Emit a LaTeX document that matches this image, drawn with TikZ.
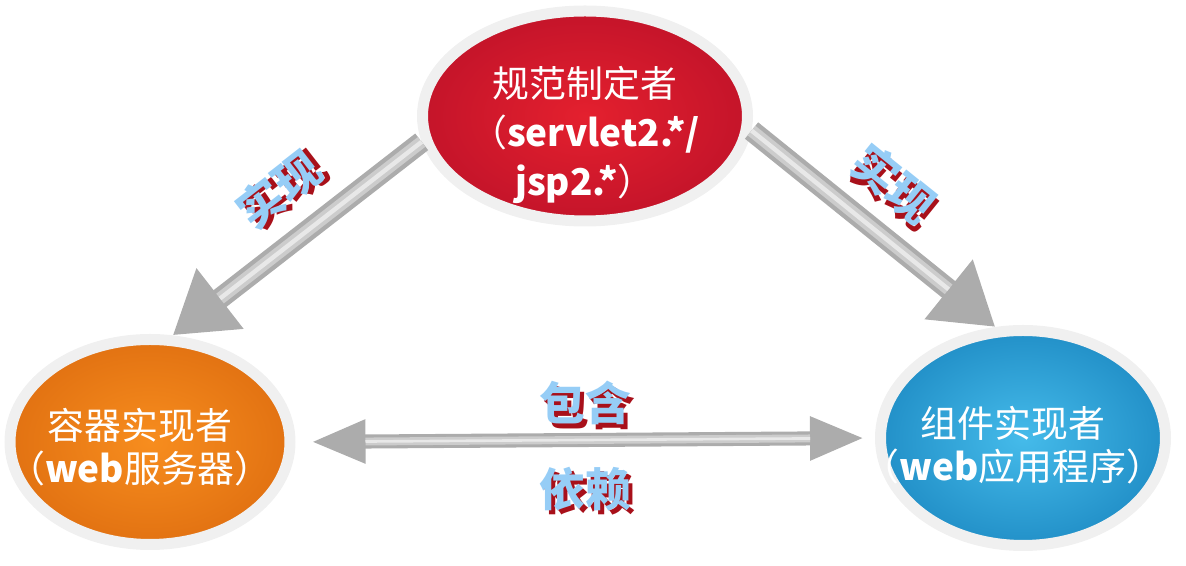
\documentclass[tikz,border=0pt]{standalone}
\usepackage{fontspec}
\usepackage{xcolor}
\usepackage{tikz}
\usetikzlibrary{positioning, arrows.meta, shapes.geometric, calc}

\newfontfamily\cjk{Noto Sans CJK SC}
\definecolor{specin}{HTML}{E4202E}
\definecolor{specout}{HTML}{C4142A}
\definecolor{contin}{HTML}{F78D1E}
\definecolor{contout}{HTML}{E27212}
\definecolor{compin}{HTML}{45BBEA}
\definecolor{compout}{HTML}{2290C8}
\definecolor{lblblue}{HTML}{96CDF6}
\definecolor{lblshadow}{HTML}{A8101A}
\newcommand{\shadowlbl}[1]{\rlap{\kern2.5pt\raisebox{-2.5pt}{\textcolor{lblshadow}{#1}}}\textcolor{lblblue}{#1}}

\begin{document}
\begin{tikzpicture}[
    role/.style={ellipse, draw=gray!12, line width=0.22cm, shading=radial},
    roletxt/.style={align=center, text=white, font=\cjk\fontsize{21}{28}\selectfont},
    bigarr/.style={-{Triangle[width=1.45cm, length=1.2cm]}, line width=12pt, draw=gray!65},
    gloss/.style={line width=7pt, draw=gray!40},
    shine/.style={line width=2.5pt, draw=gray!18},
    duoarr/.style={{Triangle[width=0.8cm, length=1.1cm]}-{Triangle[width=0.8cm, length=1.1cm]}, line width=8pt, draw=gray!65},
    lbl/.style={font=\cjk\bfseries\fontsize{26}{30}\selectfont},
]
\useasboundingbox (0,0) rectangle (23.72,11.32);

% === Three roles ===
\node[role, minimum width=6.5cm, minimum height=4.2cm, inner color=specin, outer color=specout] (spec) at (11.7,9.0) {};
\node[role, minimum width=5.6cm, minimum height=4.1cm, inner color=contin, outer color=contout] (cont) at (3.0,2.48) {};
\node[role, minimum width=5.7cm, minimum height=4.3cm, inner color=compin, outer color=compout] (comp) at (20.46,2.56) {};

% --- Role texts ---
\node[roletxt] (spectxt) at ([yshift=-0.38cm]spec.center) {规范制定者\\（\textbf{servlet2.*/}\\\textbf{jsp2.*}）};
\node[roletxt, font=\cjk\fontsize{21}{24.5}\selectfont] (conttxt) at ([xshift=-0.2cm, yshift=-0.1cm]cont.center) {容器实现者\\（\textbf{web}服务器）};
\node[roletxt, font=\cjk\fontsize{21}{24.5}\selectfont] (comptxt) at ([xshift=-0.2cm, yshift=-0.14cm]comp.center) {组件实现者\\（\textbf{web}应用程序）};

% === Arrows ===
\draw[bigarr] (spec.189) -- (cont.78)
    node[pos=0.45, sloped, above=0.15cm, lbl] (implleft) {\shadowlbl{实现}};
\draw[gloss, shorten >=1.2cm] (spec.189) -- (cont.78);
\draw[shine, shorten >=1.2cm] (spec.189) -- (cont.78);
\draw[bigarr] (spec.-5) -- (comp.104)
    node[pos=0.46, sloped, above=0.1cm, lbl] (implright) {\shadowlbl{实现}};
\draw[gloss, shorten >=1.2cm] (spec.-5) -- (comp.104);
\draw[shine, shorten >=1.2cm] (spec.-5) -- (comp.104);

% --- Container <-> component ---
\draw[duoarr, shorten <=0.3cm, shorten >=0.2cm] (cont.east) -- (comp.west)
    node[midway, above=-0.05cm, lbl] (incl) {\shadowlbl{包含}}
    node[midway, below=0.28cm, lbl] (dep) {\shadowlbl{依赖}};
\draw[gloss, line width=4.5pt, shorten <=1.4cm, shorten >=1.3cm] (cont.east) -- (comp.west);
\draw[shine, line width=1.5pt, shorten <=1.4cm, shorten >=1.3cm] (cont.east) -- (comp.west);

\end{tikzpicture}
\end{document}
